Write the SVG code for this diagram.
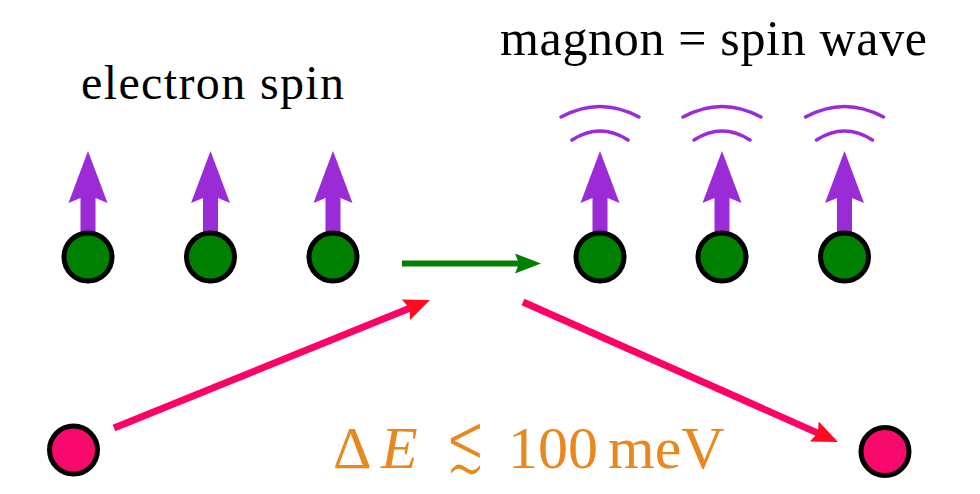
<svg xmlns="http://www.w3.org/2000/svg" xmlns:xlink="http://www.w3.org/1999/xlink" width="980" height="494" viewBox="0 0 980 494">
<style>
.spin-site{fill:#008000;stroke:#000;stroke-width:5}
.el{fill:#f70a6c;stroke:#000;stroke-width:5}
.spin{fill:#9a2bd6}
.wave{fill:none;stroke:#9a2bd6;stroke-width:3.5;stroke-linecap:round}
.pink{fill:none;stroke:#ff0066;stroke-width:7}
.grn{fill:none;stroke:#008000;stroke-width:6}
</style>
<defs>
<polygon id="spinArrow" class="spin" points="0,151 19.5,203 7.5,198 7.5,234 -7.5,234 -7.5,198 -19.5,203"/>
<g id="waves">
<path class="wave" d="M-39,117 Q0,96 39,117"/>
<path class="wave" d="M-28,140 Q0,122 28,140"/>
</g>
<marker id="redHead" markerUnits="userSpaceOnUse" markerWidth="26" markerHeight="22" viewBox="0 0 26 22" refX="4" refY="11" orient="auto">
<path d="M0,0 L26,11 L0,22 L4,11 Z" fill="#ff0a1e"/>
</marker>
<marker id="greenHead" markerUnits="userSpaceOnUse" markerWidth="26" markerHeight="20" viewBox="0 0 26 20" refX="4" refY="10" orient="auto">
<path d="M0,0 L26,10 L0,20 L4,10 Z" fill="#008000"/>
</marker>
</defs>
<rect width="980" height="494" fill="#fff"/>

<g id="label-electron-spin">
<text font-family="'Liberation Serif', 'Times New Roman', serif" fill="#000" x="81" y="98.5" font-size="48" textLength="263" lengthAdjust="spacing">electron spin</text>
</g>
<g id="label-magnon">
<text font-family="'Liberation Serif', 'Times New Roman', serif" fill="#000" x="500" y="55" font-size="50" textLength="427" lengthAdjust="spacing">magnon = spin wave</text>
</g>

<g id="spin1"><use xlink:href="#spinArrow" x="88"/><circle class="spin-site" cx="88" cy="257" r="24"/></g>
<g id="spin2"><use xlink:href="#spinArrow" x="210.5"/><circle class="spin-site" cx="210.5" cy="257" r="24"/></g>
<g id="spin3"><use xlink:href="#spinArrow" x="333"/><circle class="spin-site" cx="333" cy="257" r="24"/></g>

<g id="magnon1"><use xlink:href="#waves" x="600"/><use xlink:href="#spinArrow" x="600"/><circle class="spin-site" cx="600" cy="257" r="24"/></g>
<g id="magnon2"><use xlink:href="#waves" x="722"/><use xlink:href="#spinArrow" x="722"/><circle class="spin-site" cx="722" cy="257" r="24"/></g>
<g id="magnon3"><use xlink:href="#waves" x="844.5"/><use xlink:href="#spinArrow" x="844.5"/><circle class="spin-site" cx="844.5" cy="257" r="24"/></g>

<g id="electron-in"><circle class="el" cx="73.5" cy="450" r="24"/></g>
<g id="electron-out"><circle class="el" cx="885" cy="451.5" r="24"/></g>

<g id="connectors">
<line class="grn" x1="402" y1="263.5" x2="519" y2="263.5" marker-end="url(#greenHead)"/>
<line class="pink" x1="114" y1="428" x2="409.6" y2="308.3" marker-end="url(#redHead)"/>
<line class="pink" x1="523" y1="302" x2="817.9" y2="433.1" marker-end="url(#redHead)"/>
</g>

<g id="label-energy" font-family="'Liberation Serif', 'Times New Roman', serif" fill="#e8891f" font-size="60">
<text x="333" y="468">Δ</text>
<text x="381" y="468" font-style="italic">E</text>
<text transform="translate(445,451) scale(1,1.45)" x="0" y="14.5" font-family="'DejaVu Sans', sans-serif" font-size="60" textLength="41" lengthAdjust="spacingAndGlyphs" stroke="#fff" stroke-width="2">≲</text>
<text x="508" y="468">100</text>
<text x="608" y="468">meV</text>
</g>
</svg>
